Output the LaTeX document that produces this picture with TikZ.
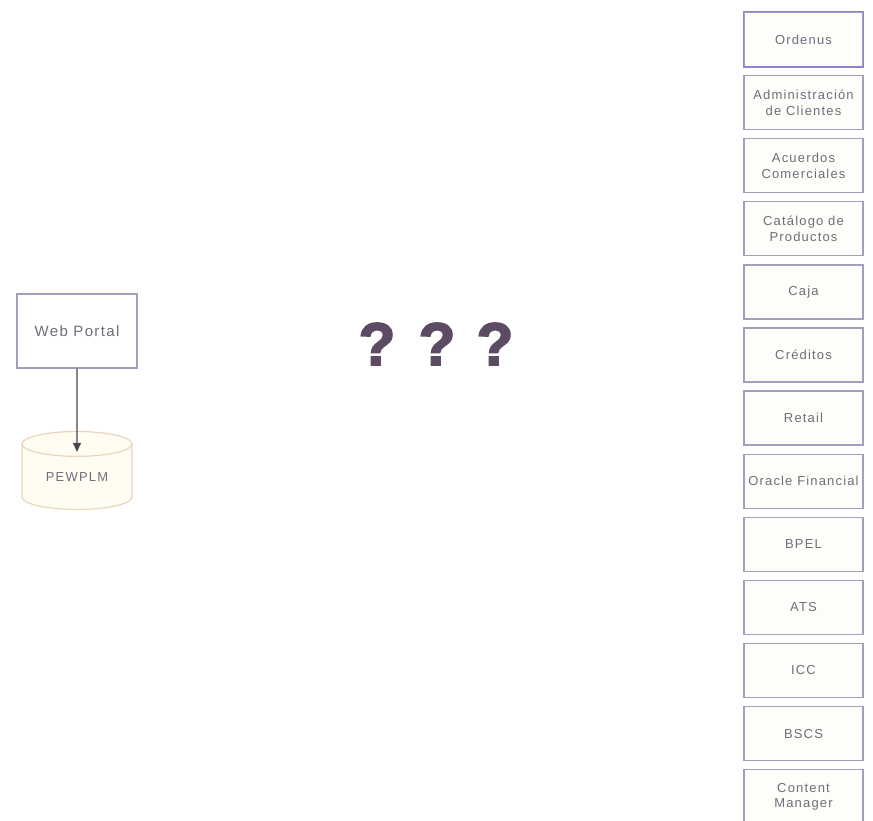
\documentclass[tikz,border=0pt]{standalone}
\usepackage{fontspec}
\setmainfont{Liberation Sans}
\newfontfamily\lblfont[LetterSpace=9]{Liberation Sans}
\newfontfamily\qfont[FakeBold=3]{Liberation Sans Bold}
\usetikzlibrary{shapes.geometric,arrows.meta}
\definecolor{boxline}{HTML}{A29EBE}
\definecolor{firstline}{HTML}{8E86CC}
\definecolor{boxfill}{HTML}{FFFDF9}
\definecolor{lbl}{HTML}{6E6E7C}
\definecolor{dbline}{HTML}{EAD6BE}
\definecolor{dbfill}{HTML}{FFFCF2}
\definecolor{qmark}{HTML}{5D4B63}
\definecolor{arrowc}{HTML}{4A4450}
\tikzset{
  sysbox/.style={draw=boxline, line width=1.3pt, fill=boxfill, minimum width=119pt,
    minimum height=54pt, inner sep=0pt, align=center, text=lbl,
    font=\lblfont\fontsize{13}{15.5}\selectfont},
  portal/.style={draw=boxline, line width=1.3pt, fill=white, minimum width=120pt,
    minimum height=74pt, inner sep=0pt, text=lbl, font=\lblfont\fontsize{15}{17}\selectfont},
  db/.style={cylinder, shape border rotate=90, aspect=0.4, draw=dbline, line width=1.2pt,
    fill=dbfill, minimum width=110pt, minimum height=78pt, inner sep=0pt, text=lbl,
    font=\lblfont\fontsize{13}{15}\selectfont},
  qm/.style={text=qmark, inner sep=0pt, font=\qfont\fontsize{60}{60}\selectfont},
  link/.style={draw=arrowc, line width=1.1pt, -{Triangle[length=9pt,width=8pt]}}
}
\begin{document}
\begin{tikzpicture}[x=1pt,y=-1pt]
\useasboundingbox (0,0) rectangle (873,821);
% left side: portal and its database
\node[portal] (portal) at (77,331) {Web Portal};
\node[db] (pewplm) at (77,477) {PEWPLM};
\draw[link] (portal.south) -- ([yshift=-21pt]pewplm.north);
% unknown middle layer
\node[qm] (q1) at (377,344) {?};
\node[qm] (q2) at (437,344) {?};
\node[qm] (q3) at (495,344) {?};
% right column of back-end systems
\foreach \name/\txt [count=\i from 0] in {
  ord/Ordenus,
  adm/{Administración\\de Clientes},
  acu/{Acuerdos\\Comerciales},
  cat/{Catálogo de\\Productos},
  caj/Caja,
  cre/Créditos,
  ret/Retail,
  orf/{Oracle Financial},
  bpl/BPEL,
  ats/ATS,
  icc/ICC,
  bsc/BSCS,
  cmg/{Content\\Manager}} {
  \node[sysbox] (\name) at (803.5,{39.5+63.1*\i}) {\txt};
}
\draw[firstline, line width=1.3pt] (ord.north west) rectangle (ord.south east);
\end{tikzpicture}
\end{document}
